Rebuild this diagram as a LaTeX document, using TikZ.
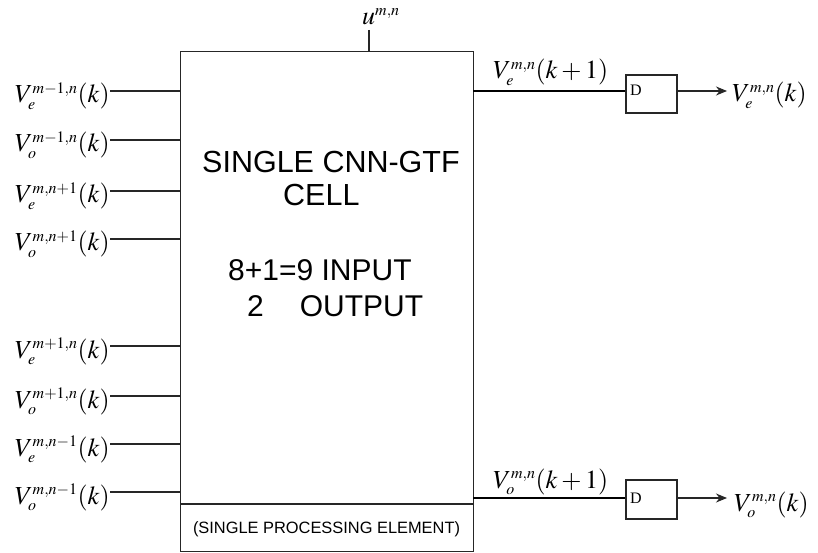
\documentclass[tikz,border=0pt]{standalone}
\usepackage{mathptmx}
\usepackage[no-math]{fontspec}
\newfontfamily\arialf{Liberation Sans}
\newfontfamily\timesf{Liberation Serif}
\usetikzlibrary{arrows.meta}
\DeclareMathSizes{26}{26}{16}{12}
\begin{document}
\begin{tikzpicture}[x=1pt,y=-1pt,
  wire/.style={draw=black!85,line width=1.1pt},
  owire/.style={draw=black,line width=1.8pt},
  boxtxt/.style={inner sep=0pt,anchor=base west,font=\arialf\fontsize{30.5}{36}\selectfont},
  boxtxtb/.style={inner sep=0pt,anchor=base west,font=\arialf\fontsize{30}{36}\selectfont},
  mlab/.style={inner sep=0pt,font=\fontsize{26}{30}\selectfont},
  dbox/.style={draw=black!85,line width=1.1pt,minimum width=51pt,minimum height=38pt,inner sep=0pt},
  dtxt/.style={inner sep=0pt,anchor=base west,font=\timesf\fontsize{16}{18}\selectfont},
  arr/.style={draw=black!85,line width=1.1pt,-{Stealth[length=11pt,width=9pt]}}]
\useasboundingbox[fill=white] (0,0) rectangle (818,553);
% main cell
\node[draw=black!85,line width=1.1pt,minimum width=293pt,minimum height=500pt,inner sep=0pt,anchor=north west] (cell) at (180,51) {};
\coordinate (dv) at (0,504);
\draw[wire] (cell.west |- dv) -- (cell.east |- dv);
\node[boxtxt] (t1) at (202,173) {SINGLE CNN-GTF};
\node[boxtxt] (t2) at (283,206) {CELL};
\node[boxtxtb] (t3) at (228,280) {8+1=9 INPUT};
\node[boxtxtb] (t4) at (247,316) {2\hspace{36pt}OUTPUT};
\node[inner sep=0pt,anchor=base,font=\arialf\fontsize{16.4}{19}\selectfont] (t5) at (326.5,533) {(SINGLE PROCESSING ELEMENT)};
% u input
\node[mlab,anchor=base west] (u) at (362,25) {$u^{m,n}$};
\coordinate (ub) at (369,30);
\coordinate (ut) at (369,51);
\draw[wire] (ub) -- (ut);
% inputs
\foreach \i/\y/\lab in {1/91/{V_e^{m-1,n}(k)},2/140/{V_o^{m-1,n}(k)},3/191/{V_e^{m,n+1}(k)},4/239/{V_o^{m,n+1}(k)},5/346/{V_e^{m+1,n}(k)},6/396/{V_o^{m+1,n}(k)},7/444/{V_e^{m,n-1}(k)},8/492/{V_o^{m,n-1}(k)}}{
  \coordinate (in\i) at (180,\y);
  \node[mlab,anchor=base east] (l\i) at (110,\y+12) {$\lab$};
  \draw[wire] (l\i.east |- in\i) -- (in\i);
}
% outputs
\node[dbox] (d1) at (651.5,94) {};
\node[dtxt] (dt1) at (630,96) {D};
\node[dbox,minimum height=39pt] (d2) at (651.5,499.5) {};
\node[dtxt] (dt2) at (630,503) {D};
\coordinate (o1) at (473,91);
\coordinate (o2) at (473,498);
\draw[owire] (o1) -- (o1 -| d1.west);
\draw[owire] (o2) -- (o2 -| d2.west);
\node[mlab,anchor=base west] (k1) at (493,79) {$V_e^{m,n}(k+1)$};
\node[mlab,anchor=base west] (k2) at (493,488) {$V_o^{m,n}(k+1)$};
\node[mlab,anchor=base west] (r1) at (732,102) {$V_e^{m,n}(k)$};
\node[mlab,anchor=base west] (r2) at (734,511) {$V_o^{m,n}(k)$};
\coordinate (a1) at (727,91);
\coordinate (a2) at (727,498);
\draw[arr] (o1 -| d1.east) -- (a1);
\draw[arr] (o2 -| d2.east) -- (a2);
\end{tikzpicture}
\end{document}
